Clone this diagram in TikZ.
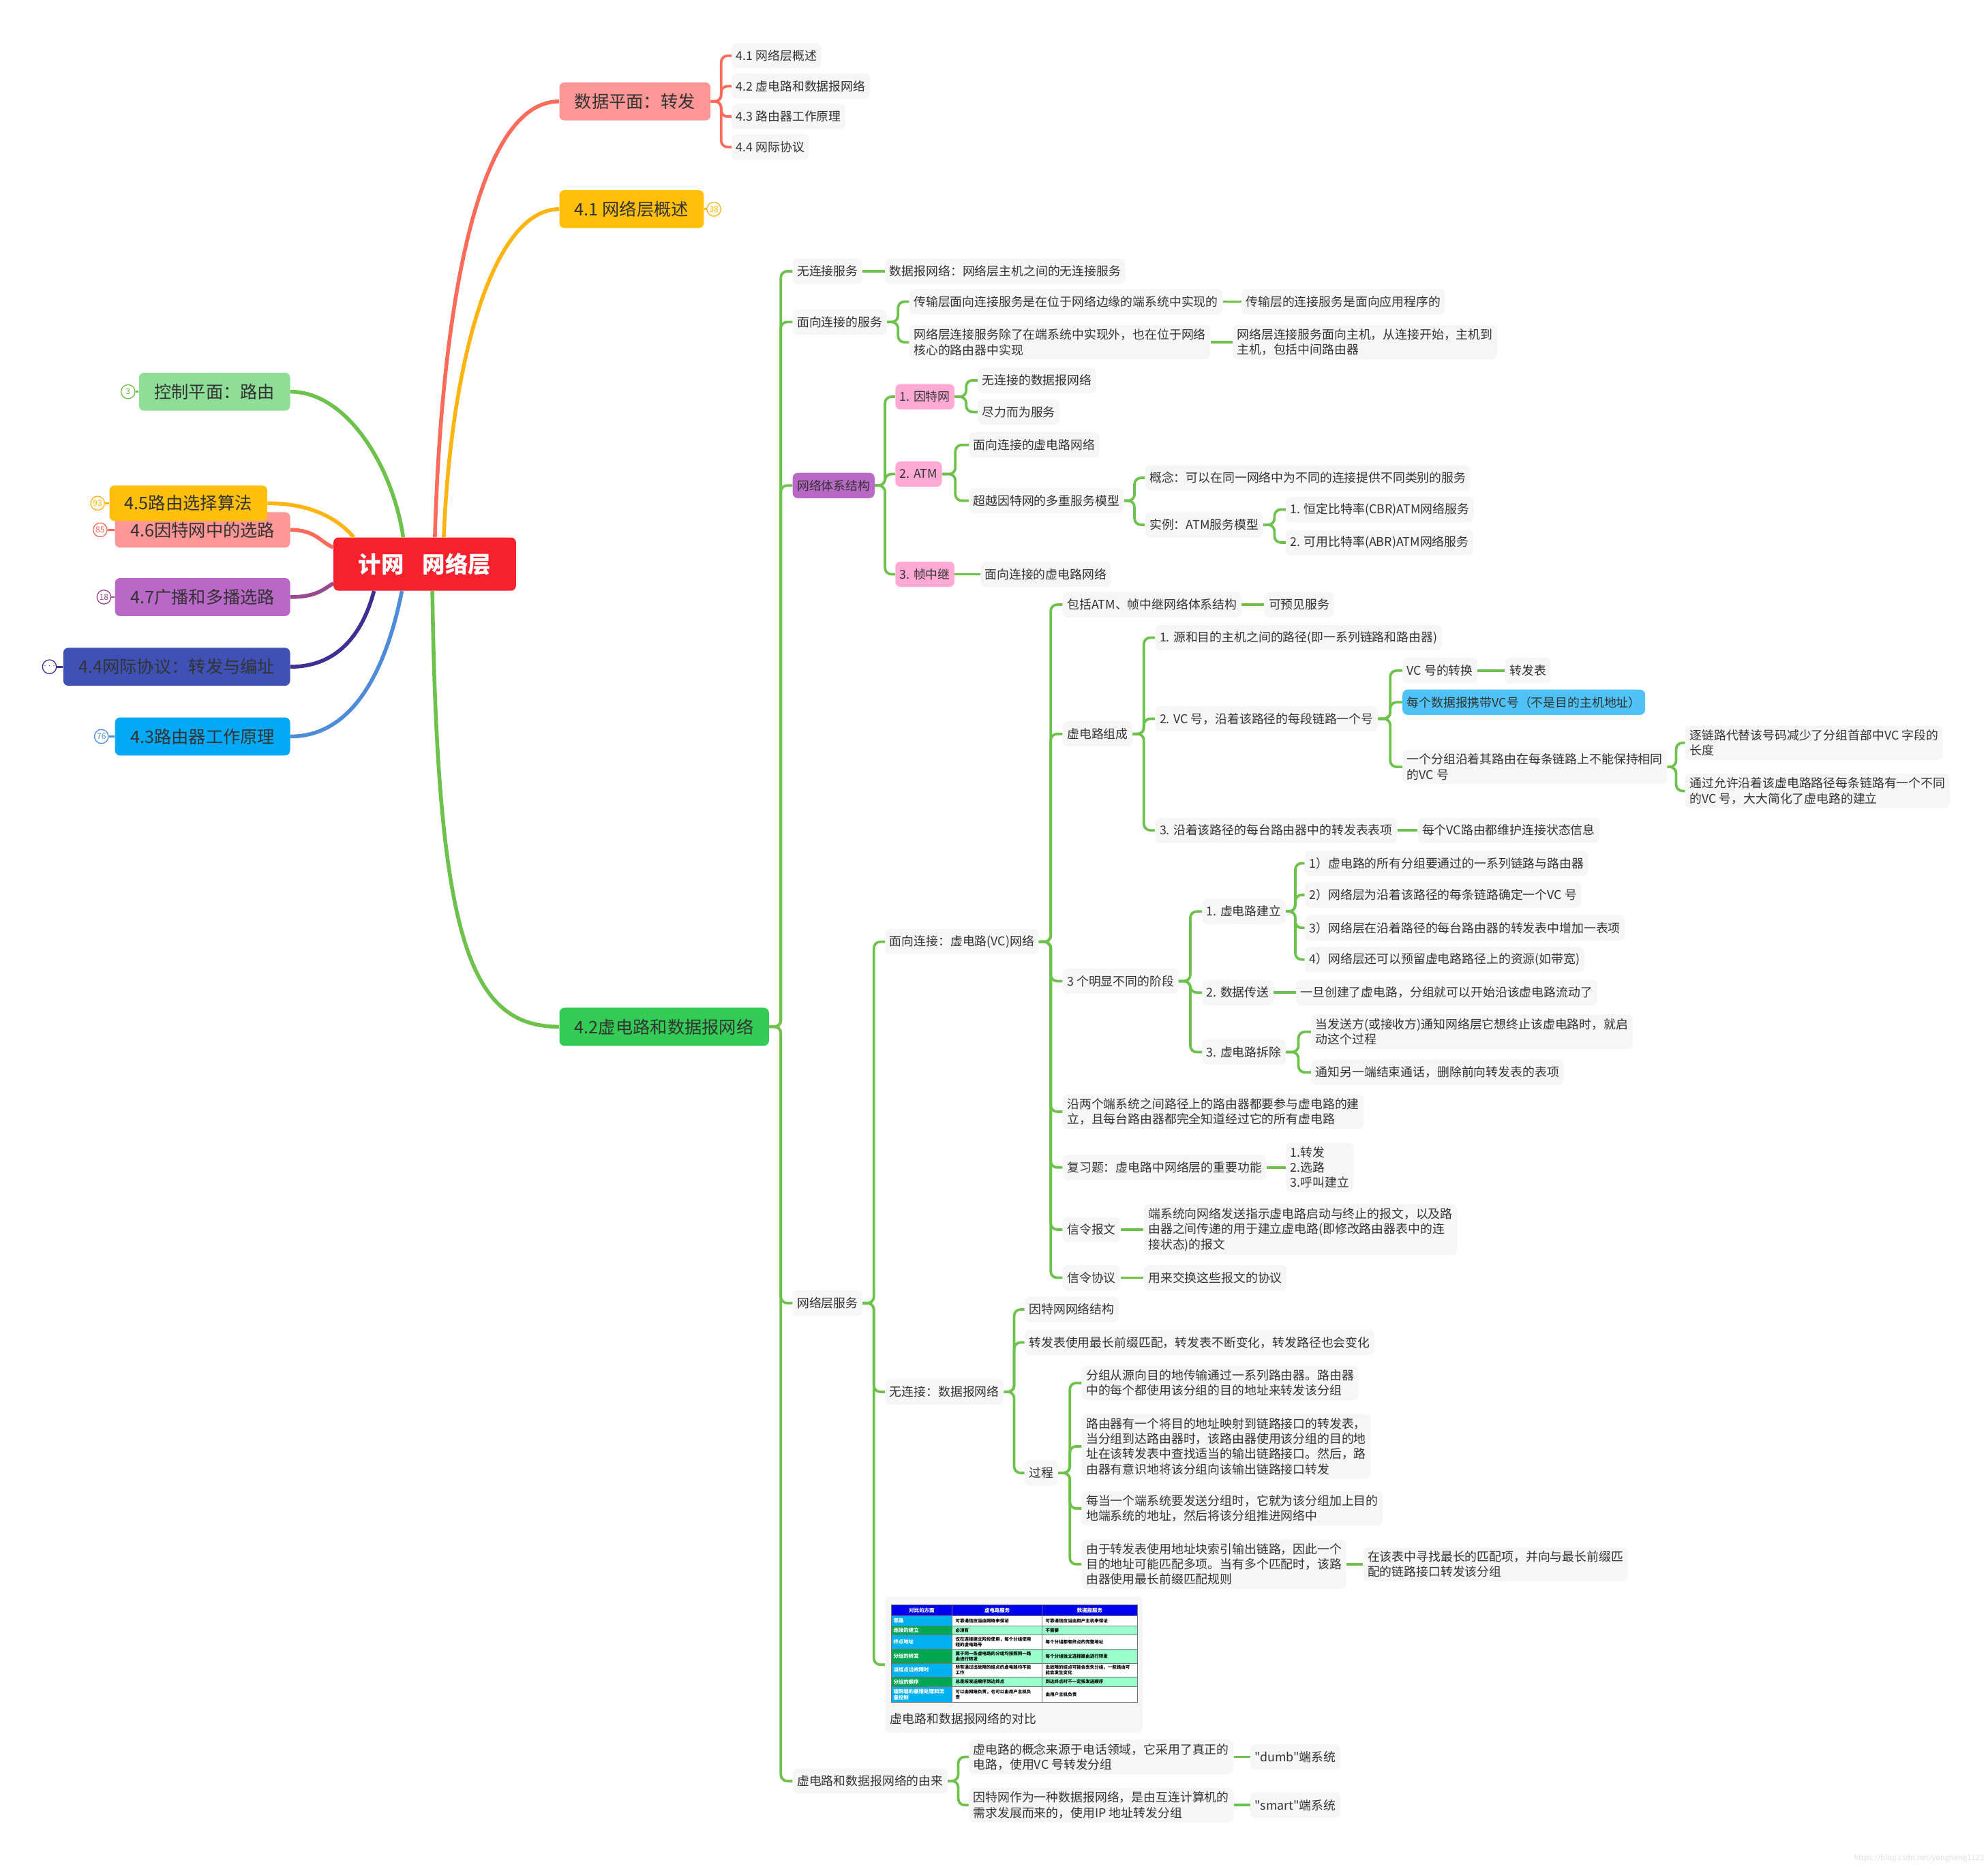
\documentclass[tikz,border=0pt]{standalone}
\usepackage{fontspec}
\setmainfont{Noto Sans CJK SC}[Ligatures=TeXOff]
\XeTeXlinebreaklocale "zh"
\usetikzlibrary{calc}
\definecolor{rootred}{HTML}{F5222D}
\definecolor{salmon}{HTML}{FF6B5B}
\definecolor{pinkbox}{HTML}{FF9696}
\definecolor{yel}{HTML}{FFBF0B}
\definecolor{yline}{HTML}{FFB412}
\definecolor{gbox}{HTML}{33CC55}
\definecolor{gline}{HTML}{6CC24A}
\definecolor{lgbox}{HTML}{8FDE98}
\definecolor{purp}{HTML}{B968C7}
\definecolor{pline}{HTML}{9A4A8C}
\definecolor{indigo}{HTML}{3F51B5}
\definecolor{iline}{HTML}{3D2F94}
\definecolor{sky}{HTML}{03A9F4}
\definecolor{bline}{HTML}{4E8BD8}
\definecolor{lpink}{HTML}{FFAAD5}
\definecolor{hl}{HTML}{4FC3F7}
\definecolor{leafbg}{HTML}{F6F6F6}
\definecolor{ink}{HTML}{333333}
\definecolor{hdr}{HTML}{0000F0}
\definecolor{cyanc}{HTML}{00B0F0}
\definecolor{greenc}{HTML}{00A650}
\definecolor{mint}{HTML}{99FFCC}
\tikzset{
  topic/.style={rounded corners=4pt, fill=#1, text=ink, inner xsep=12pt, minimum height=30pt, font=\fontsize{13.6}{14}\selectfont},
  leaf/.style={rounded corners=4pt, fill=leafbg, text=ink, inner xsep=3.5pt, inner ysep=3pt, minimum height=20pt, align=left, font=\fontsize{9.6}{12}\selectfont, anchor=west},
  tag/.style={leaf, fill=#1},
  conn/.style={draw=gline, line width=2pt, rounded corners=5pt},
  trunk/.style={line width=3pt},
  badge/.style={circle, draw=#1, text=#1, fill=white, line width=0.7pt, inner sep=0pt, minimum size=11pt, font=\fontsize{6.5}{7}\selectfont},
  tline/.style={draw=black!55, line width=0.3pt},
  cellh/.style={inner sep=0pt, text=white, font=\fontsize{4}{4.6}\selectfont\bfseries},
  cella/.style={anchor=west, inner sep=0.5pt, align=left, text=white, font=\fontsize{4}{4.6}\selectfont\bfseries},
  cellb/.style={anchor=west, inner sep=0.5pt, align=left, text=black, font=\fontsize{3.5}{4.2}\selectfont\bfseries}
}
\newcommand{\branch}[3][gline]{\draw[conn,draw=#1] (#2.east) -- ($(#2.east)!.5!(#2.east-|#3.west)$) |- (#3.west);}
\newcommand{\link}[2]{\draw[conn,rounded corners=0pt] (#1.east) -- (#2.west);}
\begin{document}
\begin{tikzpicture}[x=1pt,y=-1pt]
\useasboundingbox (0,0) rectangle (1568,1474);
\node[topic=rootred, text=white, font=\fontsize{18}{20}\selectfont\bfseries, minimum width=144pt, minimum height=42pt] (root) at (335,445) {计网\hspace{0.8em}网络层};
\node[topic=pinkbox, anchor=west] (dp) at (441,80) {数据平面：转发};
\node[topic=yel, anchor=west] (ov) at (441,165) {4.1 网络层概述};
\node[topic=gbox, anchor=west] (vcd) at (441,810) {4.2虚电路和数据报网络};
\node[topic=lgbox, anchor=east] (cp) at (229,309) {控制平面：路由};
\node[topic=pinkbox, anchor=east, minimum height=28pt] (rt6) at (229,418) {4.6因特网中的选路};
\node[topic=yel, anchor=east, minimum height=28pt] (rt5) at (211,397) {4.5路由选择算法};
\node[topic=purp, anchor=east] (rt7) at (229,471) {4.7广播和多播选路};
\node[topic=indigo, anchor=east] (rt4) at (229,526) {4.4网际协议：转发与编址};
\node[topic=sky, anchor=east] (rt3) at (229,581) {4.3路由器工作原理};
\draw[trunk, salmon] ([xshift=8pt]root.north) .. controls (348,250) and (375,80) .. (dp.west);
\draw[trunk, yline] ([xshift=15pt]root.north) .. controls (356,280) and (390,165) .. (ov.west);
\draw[trunk, gline] ([xshift=6pt]root.south) .. controls (345,740) and (370,810) .. (vcd.west);
\draw[trunk, gline] (cp.east) .. controls +(45,0) and +(-8,-55) .. ([xshift=-17pt]root.north);
\draw[trunk, salmon] (rt6.east) .. controls +(20,0) and +(-10,-4) .. ([yshift=-8pt]root.north west);
\draw[trunk, yline] (rt5.east) .. controls +(35,0) and +(-12,-14) .. ([xshift=-56pt]root.north);
\draw[trunk, pline] (rt7.east) .. controls +(20,0) and +(-8,5) .. ([yshift=6pt]root.south west);
\draw[trunk, iline] (rt4.east) .. controls +(40,0) and +(-8,30) .. ([xshift=-40pt]root.south);
\draw[trunk, bline] (rt3.east) .. controls +(55,0) and +(-10,50) .. ([xshift=-18pt]root.south);
\node[badge=yline] (b38) at (563,165) {38};
\node[badge=gline] (b3) at (101,309) {3};
\node[badge=yline] (b93) at (77,397) {93};
\node[badge=salmon] (b85) at (79,418) {85};
\node[badge=pline] (b18) at (82,471) {18};
\node[badge=iline, font=\fontsize{3.5}{4}\selectfont] (bdot) at (39,526) {···};
\node[badge=bline] (b76) at (80,581) {76};
\draw[line width=1.5pt, yline] (ov) -- (b38);
\draw[line width=1.5pt, gline] (b3) -- (cp);
\draw[line width=1.5pt, yline] (b93) -- (rt5);
\draw[line width=1.5pt, salmon] (b85) -- (rt6);
\draw[line width=1.5pt, pline] (b18) -- (rt7);
\draw[line width=1.5pt, iline] (bdot) -- (rt4);
\draw[line width=1.5pt, bline] (b76) -- (rt3);
\node[leaf] (d1) at (577,44) {4.1 网络层概述};
\node[leaf] (d2) at (577,68) {4.2 虚电路和数据报网络};
\node[leaf] (d3) at (577,92) {4.3 路由器工作原理};
\node[leaf] (d4) at (577,116) {4.4 网际协议};
\foreach \c in {d1,d2,d3,d4} {\branch[salmon]{dp}{\c}}
\node[leaf] (a1) at (625,214) {无连接服务};
\node[leaf] (a2) at (625,254) {面向连接的服务};
\node[tag=purp] (a3) at (625,383) {网络体系结构};
\node[leaf] (a4) at (625,1028) {网络层服务};
\node[leaf] (a5) at (625,1405) {虚电路和数据报网络的由来};
\foreach \c in {a1,a2,a3,a4,a5} {\branch{vcd}{\c}}
\node[leaf] (a11) at (698,214) {数据报网络：网络层主机之间的无连接服务};
\node[leaf] (a21) at (717,238) {传输层面向连接服务是在位于网络边缘的端系统中实现的};
\node[leaf] (a211) at (979,238) {传输层的连接服务是面向应用程序的};
\node[leaf] (a22) at (717,270) {网络层连接服务除了在端系统中实现外，也在位于网络\\核心的路由器中实现};
\node[leaf] (a221) at (972,270) {网络层连接服务面向主机，从连接开始，主机到\\主机，包括中间路由器};
\link{a1}{a11}
\branch{a2}{a21} \branch{a2}{a22}
\link{a21}{a211} \link{a22}{a221}
\node[tag=lpink] (n1) at (706,313) {1. 因特网};
\node[tag=lpink] (n2) at (706,374) {2. ATM};
\node[tag=lpink] (n3) at (706,453) {3. 帧中继};
\foreach \c in {n1,n2,n3} {\branch{a3}{\c}}
\node[leaf] (n11) at (771,300) {无连接的数据报网络};
\node[leaf] (n12) at (771,325) {尽力而为服务};
\node[leaf] (n21) at (764,351) {面向连接的虚电路网络};
\node[leaf] (n22) at (764,395) {超越因特网的多重服务模型};
\node[leaf] (n221) at (903,377) {概念：可以在同一网络中为不同的连接提供不同类别的服务};
\node[leaf] (n222) at (903,414) {实例：ATM服务模型};
\node[leaf] (n2221) at (1014,402) {1. 恒定比特率(CBR)ATM网络服务};
\node[leaf] (n2222) at (1014,428) {2. 可用比特率(ABR)ATM网络服务};
\node[leaf] (n31) at (773,453) {面向连接的虚电路网络};
\branch{n1}{n11} \branch{n1}{n12}
\branch{n2}{n21} \branch{n2}{n22}
\branch{n22}{n221} \branch{n22}{n222}
\branch{n222}{n2221} \branch{n222}{n2222}
\link{n3}{n31}
\node[leaf] (s1) at (698,743) {面向连接：虚电路(VC)网络};
\node[leaf] (s2) at (698,1098) {无连接：数据报网络};
\node[leaf, anchor=north west, minimum width=203pt, minimum height=108pt] (cmp) at (698,1259) {};
\foreach \c in {s1,s2,cmp} {\branch{a4}{\c}}
\node[leaf] (v1) at (838,477) {包括ATM、帧中继网络体系结构};
\node[leaf] (v11) at (997,477) {可预见服务};
\node[leaf] (v2) at (838,579) {虚电路组成};
\node[leaf] (v21) at (911,503) {1. 源和目的主机之间的路径(即一系列链路和路由器)};
\node[leaf] (v22) at (911,567) {2. VC 号，沿着该路径的每段链路一个号};
\node[leaf] (v221) at (1106,529) {VC 号的转换};
\node[leaf] (v2211) at (1187,529) {转发表};
\node[tag=hl] (v222) at (1106,554) {每个数据报携带VC号（不是目的主机地址）};
\node[leaf] (v223) at (1106,605) {一个分组沿着其路由在每条链路上不能保持相同\\的VC 号};
\node[leaf] (v2231) at (1329,586) {逐链路代替该号码减少了分组首部中VC 字段的\\长度};
\node[leaf] (v2232) at (1329,624) {通过允许沿着该虚电路路径每条链路有一个不同\\的VC 号，大大简化了虚电路的建立};
\node[leaf] (v23) at (911,655) {3. 沿着该路径的每台路由器中的转发表表项};
\node[leaf] (v231) at (1118,655) {每个VC路由都维护连接状态信息};
\node[leaf] (v3) at (838,774) {3 个明显不同的阶段};
\node[leaf] (v31) at (948,719) {1. 虚电路建立};
\node[leaf] (p1) at (1029,681) {1）虚电路的所有分组要通过的一系列链路与路由器};
\node[leaf] (p2) at (1029,706) {2）网络层为沿着该路径的每条链路确定一个VC 号};
\node[leaf] (p3) at (1029,732) {3）网络层在沿着路径的每台路由器的转发表中增加一表项};
\node[leaf] (p4) at (1029,757) {4）网络层还可以预留虚电路路径上的资源(如带宽)};
\node[leaf] (v32) at (948,783) {2. 数据传送};
\node[leaf] (v321) at (1022,783) {一旦创建了虚电路，分组就可以开始沿该虚电路流动了};
\node[leaf] (v33) at (948,830) {3. 虚电路拆除};
\node[leaf] (v331) at (1034,814) {当发送方(或接收方)通知网络层它想终止该虚电路时，就启\\动这个过程};
\node[leaf] (v332) at (1034,846) {通知另一端结束通话，删除前向转发表的表项};
\node[leaf] (v4) at (838,877) {沿两个端系统之间路径上的路由器都要参与虚电路的建\\立，且每台路由器都完全知道经过它的所有虚电路};
\node[leaf] (v5) at (838,921) {复习题：虚电路中网络层的重要功能};
\node[leaf] (v51) at (1014,921) {1.转发\\2.选路\\3.呼叫建立};
\node[leaf] (v6) at (838,970) {信令报文};
\node[leaf] (v61) at (902,970) {端系统向网络发送指示虚电路启动与终止的报文，以及路\\由器之间传递的用于建立虚电路(即修改路由器表中的连\\接状态)的报文};
\node[leaf] (v7) at (838,1008) {信令协议};
\node[leaf] (v71) at (902,1008) {用来交换这些报文的协议};
\foreach \c in {v1,v2,v3,v4,v5,v6,v7} {\branch{s1}{\c}}
\link{v1}{v11}
\foreach \c in {v21,v22,v23} {\branch{v2}{\c}}
\foreach \c in {v221,v222,v223} {\branch{v22}{\c}}
\link{v221}{v2211}
\branch{v223}{v2231} \branch{v223}{v2232}
\link{v23}{v231}
\foreach \c in {v31,v32,v33} {\branch{v3}{\c}}
\foreach \c in {p1,p2,p3,p4} {\branch{v31}{\c}}
\link{v32}{v321}
\branch{v33}{v331} \branch{v33}{v332}
\link{v5}{v51} \link{v6}{v61} \link{v7}{v71}
\node[leaf] (w1) at (808,1033) {因特网网络结构};
\node[leaf] (w2) at (808,1059) {转发表使用最长前缀匹配，转发表不断变化，转发路径也会变化};
\node[leaf] (w3) at (808,1162) {过程};
\node[leaf] (q1) at (853,1091) {分组从源向目的地传输通过一系列路由器。路由器\\中的每个都使用该分组的目的地址来转发该分组};
\node[leaf] (q2) at (853,1141) {路由器有一个将目的地址映射到链路接口的转发表，\\当分组到达路由器时，该路由器使用该分组的目的地\\址在该转发表中查找适当的输出链路接口。然后，路\\由器有意识地将该分组向该输出链路接口转发};
\node[leaf] (q3) at (853,1190) {每当一个端系统要发送分组时，它就为该分组加上目的\\地端系统的地址，然后将该分组推进网络中};
\node[leaf] (q4) at (853,1234) {由于转发表使用地址块索引输出链路，因此一个\\目的地址可能匹配多项。当有多个匹配时，该路\\由器使用最长前缀匹配规则};
\node[leaf] (q41) at (1075,1234) {在该表中寻找最长的匹配项，并向与最长前缀匹\\配的链路接口转发该分组};
\foreach \c in {w1,w2,w3} {\branch{s2}{\c}}
\foreach \c in {q1,q2,q3,q4} {\branch{w3}{\c}}
\link{q4}{q41}
\fill[hdr] (703,1266) rectangle (897,1274.8);
\node[cellh] (th1) at (727,1270.4) {对比的方面};
\node[cellh] (th2) at (786.5,1270.4) {虚电路服务};
\node[cellh] (th3) at (859.5,1270.4) {数据报服务};
\foreach \t/\b/\ca/\cb/\ta/\tb/\tc [count=\i] in {
  1274.8/1282.5/cyanc/white/{思路}/{可靠通信应当由网络来保证}/{可靠通信应当由用户主机来保证},
  1282.5/1289.7/greenc/mint/{连接的建立}/{必须有}/{不需要},
  1289.7/1300.8/cyanc/white/{终点地址}/{仅在连接建立阶段使用，每个分组使用\\短的虚电路号}/{每个分组都有终点的完整地址},
  1300.8/1312.1/greenc/mint/{分组的转发}/{属于同一条虚电路的分组均按照同一路\\由进行转发}/{每个分组独立选择路由进行转发},
  1312.1/1322.8/cyanc/white/{当结点出故障时}/{所有通过出故障的结点的虚电路均不能\\工作}/{出故障的结点可能会丢失分组，一些路由可\\能会发生变化},
  1322.8/1330.5/greenc/mint/{分组的顺序}/{总是按发送顺序到达终点}/{到达终点时不一定按发送顺序},
  1330.5/1343/cyanc/white/{端到端的差错处理和流\\量控制}/{可以由网络负责，也可以由用户主机负\\责}/{由用户主机负责}}
{
  \fill[\ca] (703,\t) rectangle (751,\b);
  \fill[\cb] (751,\t) rectangle (897,\b);
  \node[cella] (ta\i) at (704,{(\t+\b)/2}) {\ta};
  \node[cellb] (tb\i) at (753,{(\t+\b)/2}) {\tb};
  \node[cellb] (tc\i) at (824,{(\t+\b)/2}) {\tc};
}
\foreach \y in {1266,1274.8,1282.5,1289.7,1300.8,1312.1,1322.8,1330.5,1343} \draw[tline] (703,\y) -- (897,\y);
\foreach \x in {703,751,822,897} \draw[tline] (\x,1266) -- (\x,1343);
\node[anchor=west, inner sep=0pt, text=ink, font=\fontsize{9.6}{12}\selectfont] (cap) at (702,1356) {虚电路和数据报网络的对比};
\node[leaf] (h1) at (764,1386) {虚电路的概念来源于电话领域，它采用了真正的\\电路，使用VC 号转发分组};
\node[leaf] (h11) at (986,1386) {"dumb"端系统};
\node[leaf] (h2) at (764,1424) {因特网作为一种数据报网络，是由互连计算机的\\需求发展而来的，使用IP 地址转发分组};
\node[leaf] (h21) at (986,1424) {"smart"端系统};
\branch{a5}{h1} \branch{a5}{h2}
\link{h1}{h11} \link{h2}{h21}
\node[anchor=east, inner sep=0pt, text=black!12, font=\fontsize{6}{7}\selectfont] (wm) at (1565,1466) {https://blog.csdn.net/yongheng1123};
\end{tikzpicture}
\end{document}
